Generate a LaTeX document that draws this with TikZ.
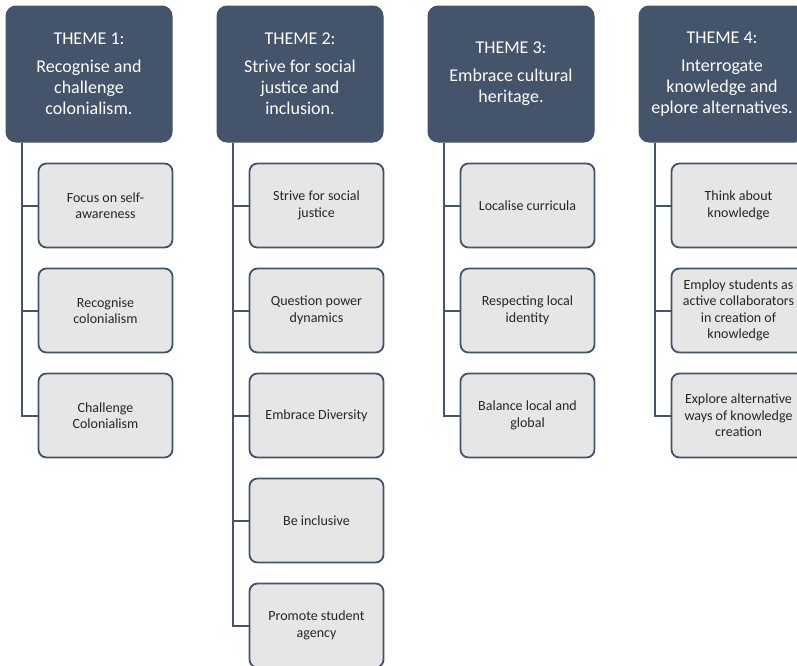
\documentclass[tikz,border=0pt]{standalone}
\usepackage{fontspec}
\setmainfont{Carlito}
\definecolor{slate}{HTML}{44546A}
\definecolor{cardfill}{HTML}{E7E6E6}
\definecolor{cardtext}{HTML}{262626}
\begin{document}
\begin{tikzpicture}[x=1pt,y=-1pt,
  theme/.style={fill=slate, draw=slate, line width=1pt, rounded corners=10pt,
    minimum width=166pt, minimum height=136pt, inner sep=0pt,
    text=white, align=center, font=\fontsize{18}{21}\selectfont},
  item/.style={fill=cardfill, draw=slate, line width=1.8pt, rounded corners=8pt,
    minimum width=134pt, minimum height=84pt, inner sep=0pt,
    text=cardtext, align=center, font=\fontsize{14}{16.5}\selectfont},
  link/.style={draw=slate, line width=2pt}]
\clip (0,0) rectangle (797,665);

% theme headers
\node[theme] (t1) at (89,74)  {THEME 1:\\[7pt]Recognise and\\challenge\\colonialism.};
\node[theme] (t2) at (300,74) {THEME 2:\\[7pt]Strive for social\\justice and\\inclusion.};
\node[theme] (t3) at (511,74) {THEME 3:\\[7pt]Embrace cultural\\heritage.};
\node[theme] (t4) at (722,74) {THEME 4:\\[7pt]Interrogate\\knowledge and\\eplore alternatives.};

% theme 1 items
\node[item] (a1) at (105.5,205.5) {Focus on self-\\awareness};
\node[item] (a2) at (105.5,310.5) {Recognise\\colonialism};
\node[item] (a3) at (105.5,415.5) {Challenge\\Colonialism};

% theme 2 items
\node[item] (b1) at (316.5,205.5) {Strive for social\\justice};
\node[item] (b2) at (316.5,310.5) {Question power\\dynamics};
\node[item] (b3) at (316.5,415.5) {Embrace Diversity};
\node[item] (b4) at (316.5,520.5) {Be inclusive};
\node[item] (b5) at (316.5,625.5) {Promote student\\agency};

% theme 3 items
\node[item] (c1) at (527.5,205.5) {Localise curricula};
\node[item] (c2) at (527.5,310.5) {Respecting local\\identity};
\node[item] (c3) at (527.5,415.5) {Balance local and\\global};

% theme 4 items
\node[item] (d1) at (738.5,205.5) {Think about\\knowledge};
\node[item] (d2) at (738.5,310.5) {Employ students as\\active collaborators\\in creation of\\knowledge};
\node[item] (d3) at (738.5,415.5) {Explore alternative\\ways of knowledge\\creation};

% elbow connectors from each header to its items
\foreach \h/\list in {t1/{a1,a2,a3}, t2/{b1,b2,b3,b4,b5}, t3/{c1,c2,c3}, t4/{d1,d2,d3}}{
  \foreach \c in \list {
    \draw[link] ([xshift=16.5pt]\h.south west) |- (\c.west);
  }
}
\end{tikzpicture}
\end{document}
